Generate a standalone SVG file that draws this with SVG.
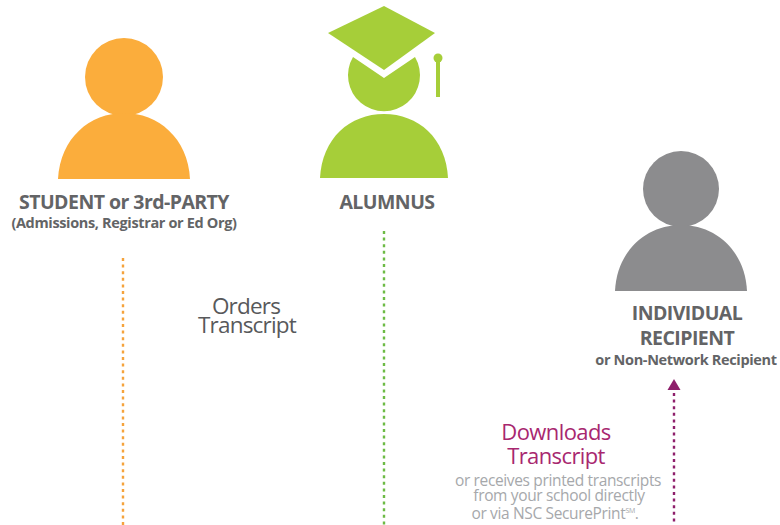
<svg xmlns="http://www.w3.org/2000/svg" width="780" height="525" viewBox="0 0 780 525">
<style>
text{font-family:"Open Sans","Noto Sans","Liberation Sans",sans-serif;text-anchor:middle}
.t{font-weight:700;fill:#636466;font-size:19.5px;letter-spacing:-.55px}
.s{font-weight:700;fill:#636466;font-size:14.5px;letter-spacing:-.35px}
.o{fill:#58595b;font-size:22.5px;letter-spacing:-.8px}
.d{fill:#a8276f;font-size:22px;letter-spacing:-.6px}
.g{fill:#a6a8ab;font-size:15.5px;letter-spacing:-.35px}
.c{fill:none;stroke-width:2.4;stroke-dasharray:3 3.6}
</style>
<rect width="780" height="525" fill="#fff"/>
<g id="student">
<circle cx="124" cy="77" r="39" fill="#fbad3c"/>
<path d="M58 179C60 138 90 113 124 113C158 113 188 138 190 179Z" fill="#fbad3c"/>
<text class="t" x="124" y="209">STUDENT or 3rd-PARTY</text>
<text class="s" x="124" y="228">(Admissions, Registrar or Ed Org)</text>
</g>
<g id="alumnus">
<path d="M353 57L384 78L415 57A36 36 0 1 1 353 57Z" fill="#a6ce39"/>
<path d="M384 6L435 33L384 70L328 33Z" fill="#a6ce39"/>
<circle cx="438" cy="58" r="4.5" fill="#a6ce39"/>
<rect x="436" y="58" width="4" height="39" fill="#a6ce39"/>
<path d="M320 178C322 138 350 114 384 114C418 114 446 138 448 178Z" fill="#a6ce39"/>
<text class="t" x="387" y="209">ALUMNUS</text>
</g>
<g id="recipient">
<circle cx="681" cy="189" r="38" fill="#8c8c8e"/>
<path d="M615 291C617 250 647 225 681 225C715 225 745 250 747 291Z" fill="#8c8c8e"/>
<text class="t" x="687" y="320">INDIVIDUAL</text>
<text class="t" x="687" y="345">RECIPIENT</text>
<text class="s" x="686" y="365">or Non-Network Recipient</text>
</g>
<g id="connectors">
<line class="c" x1="123" y1="258" x2="123" y2="525" stroke="#f5a33c"/>
<line class="c" x1="384" y1="231" x2="384" y2="525" stroke="#6dbb45"/>
<line class="c" x1="674" y1="393" x2="674" y2="525" stroke="#8e1f6b"/>
<path d="M667.500 390L674 379L680.500 390Z" fill="#8e1f6b"/>
</g>
<g id="labels">
<text class="o" x="246" y="314">Orders</text>
<text class="o" x="247" y="333">Transcript</text>
<text class="d" x="556" y="440">Downloads</text>
<text class="d" x="556" y="464">Transcript</text>
<text class="g" x="558" y="486">or receives printed transcripts</text>
<text class="g" x="559" y="501">from your school directly</text>
<text class="g" x="555" y="519">or via NSC SecurePrint<tspan font-size="7" dy="-6">SM</tspan><tspan dy="6">.</tspan></text>
</g>
</svg>
